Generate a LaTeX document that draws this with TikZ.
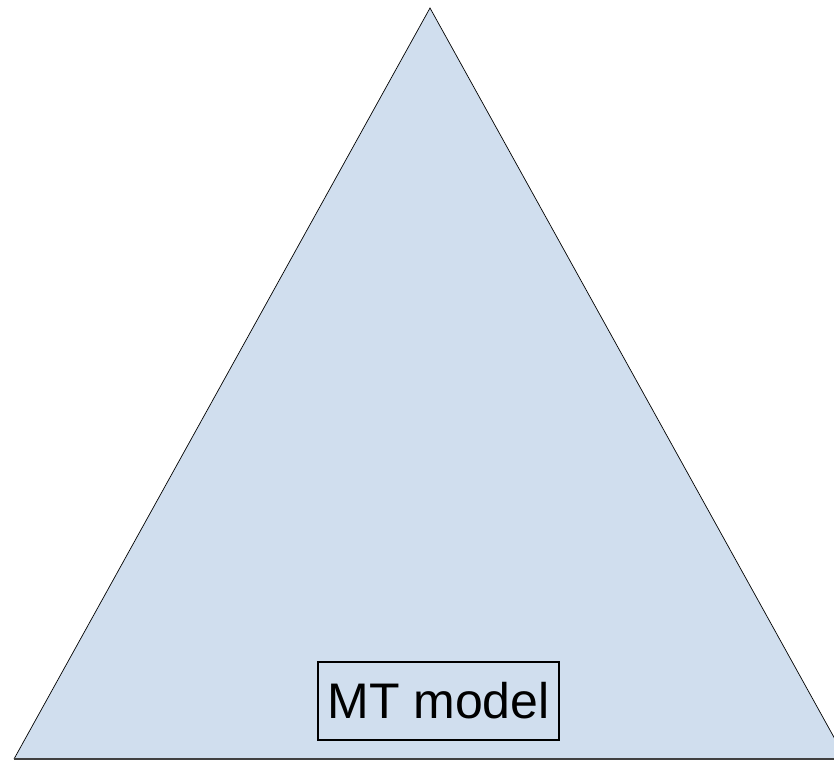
\documentclass[tikz,border=0pt]{standalone}
\usepackage{tikz}
\usetikzlibrary{positioning,calc}
\usepackage{xcolor}
\usepackage{fontspec}
\setmainfont{Liberation Sans}
\definecolor{Pyramid}{HTML}{D0DEEE}
\definecolor{Ink}{HTML}{000000}

\begin{document}
\begin{tikzpicture}[x=1pt,y=-1pt,
  modelbox/.style={draw=Ink,line width=1.6pt,inner sep=0pt,
    minimum width=241pt,minimum height=78pt,
    font=\fontsize{50}{60}\selectfont}]
\useasboundingbox (0,0) rectangle (834,761);
\clip (0,0) rectangle (834,761);
\coordinate (apex) at (430,8);
\coordinate (left) at (14,759);
\coordinate (right) at (846,759);
\fill[Pyramid] (apex) -- (left) -- (right) -- cycle;
\draw[Ink,line width=0.7pt,line join=miter] (left) -- (apex) -- (right);
\draw[Ink!75,line width=1.4pt] (left) -- (right);
\node[modelbox] (mt) at (438.5,701) {MT model};
\end{tikzpicture}
\end{document}
